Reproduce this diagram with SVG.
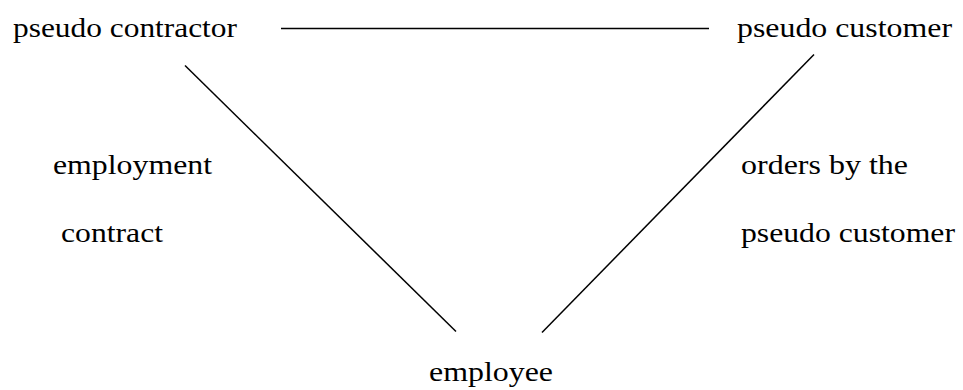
<svg xmlns="http://www.w3.org/2000/svg" width="963" height="390" viewBox="0 0 963 390">
<style>
line{stroke:#000;stroke-width:1.5}
</style>
<rect width="963" height="390" fill="#fff"/>
<g id="connectors">
<line x1="281" y1="28.5" x2="709" y2="28.5"/>
<line x1="185" y1="65.5" x2="456" y2="331.5"/>
<line x1="814" y1="54.5" x2="542" y2="332.5"/>
</g>
<g font-family="Liberation Serif, Times New Roman, serif" font-size="28" fill="#000">
<g id="contractor"><text x="13" y="36.5" textLength="224" lengthAdjust="spacingAndGlyphs">pseudo contractor</text></g>
<g id="customer"><text x="737" y="36.5" textLength="215" lengthAdjust="spacingAndGlyphs">pseudo customer</text></g>
<g id="employee"><text x="429" y="381" textLength="124" lengthAdjust="spacingAndGlyphs">employee</text></g>
<g id="label-employment"><text x="53" y="174" textLength="159" lengthAdjust="spacingAndGlyphs">employment</text>
<text x="61" y="242" textLength="102" lengthAdjust="spacingAndGlyphs">contract</text></g>
<g id="label-orders"><text x="741" y="174" textLength="167" lengthAdjust="spacingAndGlyphs">orders by the</text>
<text x="741" y="242" textLength="214" lengthAdjust="spacingAndGlyphs">pseudo customer</text></g>
</g>
</svg>
